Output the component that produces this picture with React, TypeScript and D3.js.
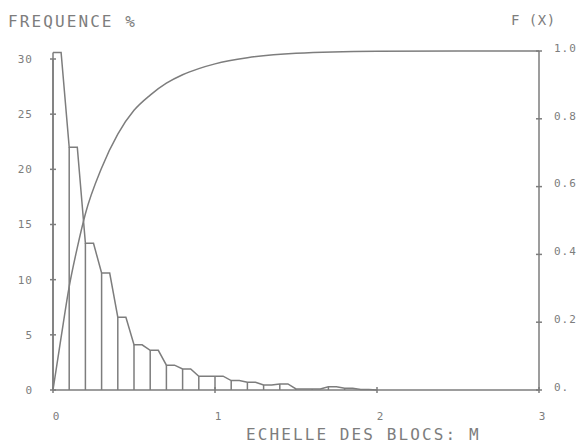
import React from "react";
import * as d3 from "d3";

// histogram bins (left edge, width 0.1) and frequency in %
const binLefts = [0, 0.1, 0.2, 0.3, 0.4, 0.5, 0.6, 0.7, 0.8, 0.9, 1.0, 1.1, 1.2, 1.3, 1.4, 1.5, 1.6, 1.7, 1.8, 1.9];
const freq = [30.6, 22.0, 13.3, 10.6, 6.6, 4.1, 3.6, 2.25, 1.9, 1.25, 1.25, 0.85, 0.7, 0.45, 0.55, 0.1, 0.1, 0.3, 0.15, 0.05];

// cumulative curve F(X)
const cdfX = [0, 0.05, 0.1, 0.15, 0.2, 0.3, 0.4, 0.5, 0.6, 0.7, 0.8, 0.9, 1.0, 1.2, 1.5, 2.0, 2.5, 3.0];
const cdfY = [0, 0.155, 0.305, 0.42, 0.52, 0.655, 0.755, 0.825, 0.87, 0.905, 0.93, 0.948, 0.962, 0.98, 0.993, 0.999, 1.0, 1.0];

const xTicks = [0, 1, 2, 3];
const leftTicks = [0, 5, 10, 15, 20, 25, 30];
const rightTicks = [0, 0.2, 0.4, 0.6, 0.8, 1.0];
const rightLabels = ["0.", "0.2", "0.4", "0.6", "0.8", "1.0"];

const ink = "#7d7d7d";
const font = "'DejaVu Sans Mono', monospace";

export default function App() {
  const x = d3.scaleLinear().domain([0, 3]).range([53, 539]);
  const yL = d3.scaleLinear().domain([0, 30]).range([390, 59]);
  const yR = d3.scaleLinear().domain([0, 1]).range([390, 51]);

  // outline: flat top over first half of each bin, then slope to the next
  const outline: [number, number][] = [];
  binLefts.forEach((b, i) => {
    outline.push([b, freq[i]]);
    outline.push([b + 0.05, freq[i]]);
  });
  outline.push([binLefts[binLefts.length - 1] + 0.1, 0]);

  const histLine = d3.line<[number, number]>()
    .x(d => x(d[0]))
    .y(d => yL(d[1]));

  const cdfLine = d3.line<number>()
    .x((d, i) => x(cdfX[i]))
    .y(d => yR(d))
    .curve(d3.curveMonotoneX);

  return (
    <svg width={582} height={444} style={{position: "absolute", left: 0, top: 0, background: "#fff"}}>
      <g stroke={ink} strokeWidth={1.5} fill="none">
        {/* axes */}
        <line x1={x(0)} x2={x(0)} y1={yL(0)} y2={yL(30)} />
        <line x1={x(0)} x2={x(3)} y1={yL(0)} y2={yL(0)} />
        <line x1={x(3)} x2={x(3)} y1={yR(0)} y2={yR(1)} />
        {leftTicks.map(t => (
          <line key={"l" + t} x1={x(0) - 3} x2={x(0) + 3} y1={yL(t)} y2={yL(t)} />
        ))}
        {rightTicks.map(t => (
          <line key={"r" + t} x1={x(3) - 3} x2={x(3) + 3} y1={yR(t)} y2={yR(t)} />
        ))}
        {xTicks.map(t => (
          <line key={"x" + t} x1={x(t)} x2={x(t)} y1={yL(0) - 3} y2={yL(0) + 3} />
        ))}

        {/* histogram */}
        {binLefts.map((b, i) => (
          <line key={"b" + i} x1={x(b)} x2={x(b)} y1={yL(0)} y2={yL(freq[i])} />
        ))}
        <path d={histLine(outline) || ""} />

        {/* cumulative */}
        <path d={cdfLine(cdfY) || ""} />
      </g>

      <g fill={ink} fontFamily={font}>
        <text x={8} y={27} fontSize={16} letterSpacing={2.1}>FREQUENCE %</text>
        <text x={511} y={25} fontSize={14} letterSpacing={0.5}>F (X)</text>
        <text x={246} y={440} fontSize={16} letterSpacing={2.1}>ECHELLE DES BLOCS: M</text>

        {leftTicks.map(t => (
          <text key={"lt" + t} x={33} y={yL(t)} dy="0.35em" fontSize={11} letterSpacing={1} textAnchor="end">{t}</text>
        ))}
        {rightTicks.map((t, i) => (
          <text key={"rt" + t} x={554} y={yR(t) - 3} dy="0.35em" fontSize={11} letterSpacing={1}>{rightLabels[i]}</text>
        ))}
        {xTicks.map(t => (
          <text key={"xt" + t} x={x(t) + 3} y={416} dy="0.35em" fontSize={11} textAnchor="middle">{t}</text>
        ))}
      </g>
    </svg>
  );
}
